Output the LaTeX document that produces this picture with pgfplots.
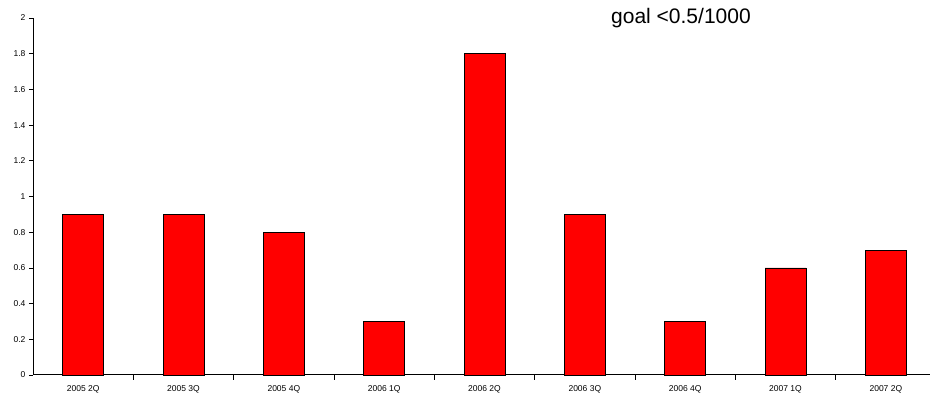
\documentclass[border=0pt]{standalone}
\usepackage{fontspec}
\setmainfont{Liberation Sans}
\usepackage{pgfplots}
\pgfplotsset{compat=1.18}
\begin{document}
\begin{tikzpicture}
\begin{axis}[
  at={(0,0)}, anchor=south west,
  scale only axis,
  width=897pt, height=357pt,
  xmin=-0.5, xmax=8.44,
  ymin=0, ymax=2,
  axis x line=bottom, axis y line=left,
  axis line style={-, line width=1pt},
  xtick={0,...,8},
  xticklabels={2005 2Q,2005 3Q,2005 4Q,2006 1Q,2006 2Q,2006 3Q,2006 4Q,2007 1Q,2007 2Q},
  major x tick style={draw=none},
  minor xtick={0.5,1.5,2.5,3.5,4.5,5.5,6.5,7.5},
  minor x tick style={draw=black, line width=0.6pt},
  minor tick length=5pt,
  ytick={0,0.2,...,2},
  yticklabels={0,0.2,0.4,0.6,0.8,1,1.2,1.4,1.6,1.8,2},
  major y tick style={black, line width=0.6pt},
  major tick length=4pt,
  ytick align=outside, xtick align=outside,
  tick label style={font=\fontsize{8.5}{10}\selectfont},
  xticklabel style={yshift=-3pt},
  clip=false,
]
\addplot[ybar, bar width=41pt, fill=red, draw=black, line width=0.6pt]
  coordinates {(0,0.9) (1,0.9) (2,0.8) (3,0.3) (4,1.8) (5,0.9) (6,0.3) (7,0.6) (8,0.7)};
\end{axis}
\node[anchor=base west, inner sep=0pt, font=\fontsize{21}{24}\selectfont] at (578pt,351pt) {goal <0.5/1000};
\pgfresetboundingbox
\path[use as bounding box] (-33pt,-26pt) rectangle (897pt,375pt);
\end{tikzpicture}
\end{document}
